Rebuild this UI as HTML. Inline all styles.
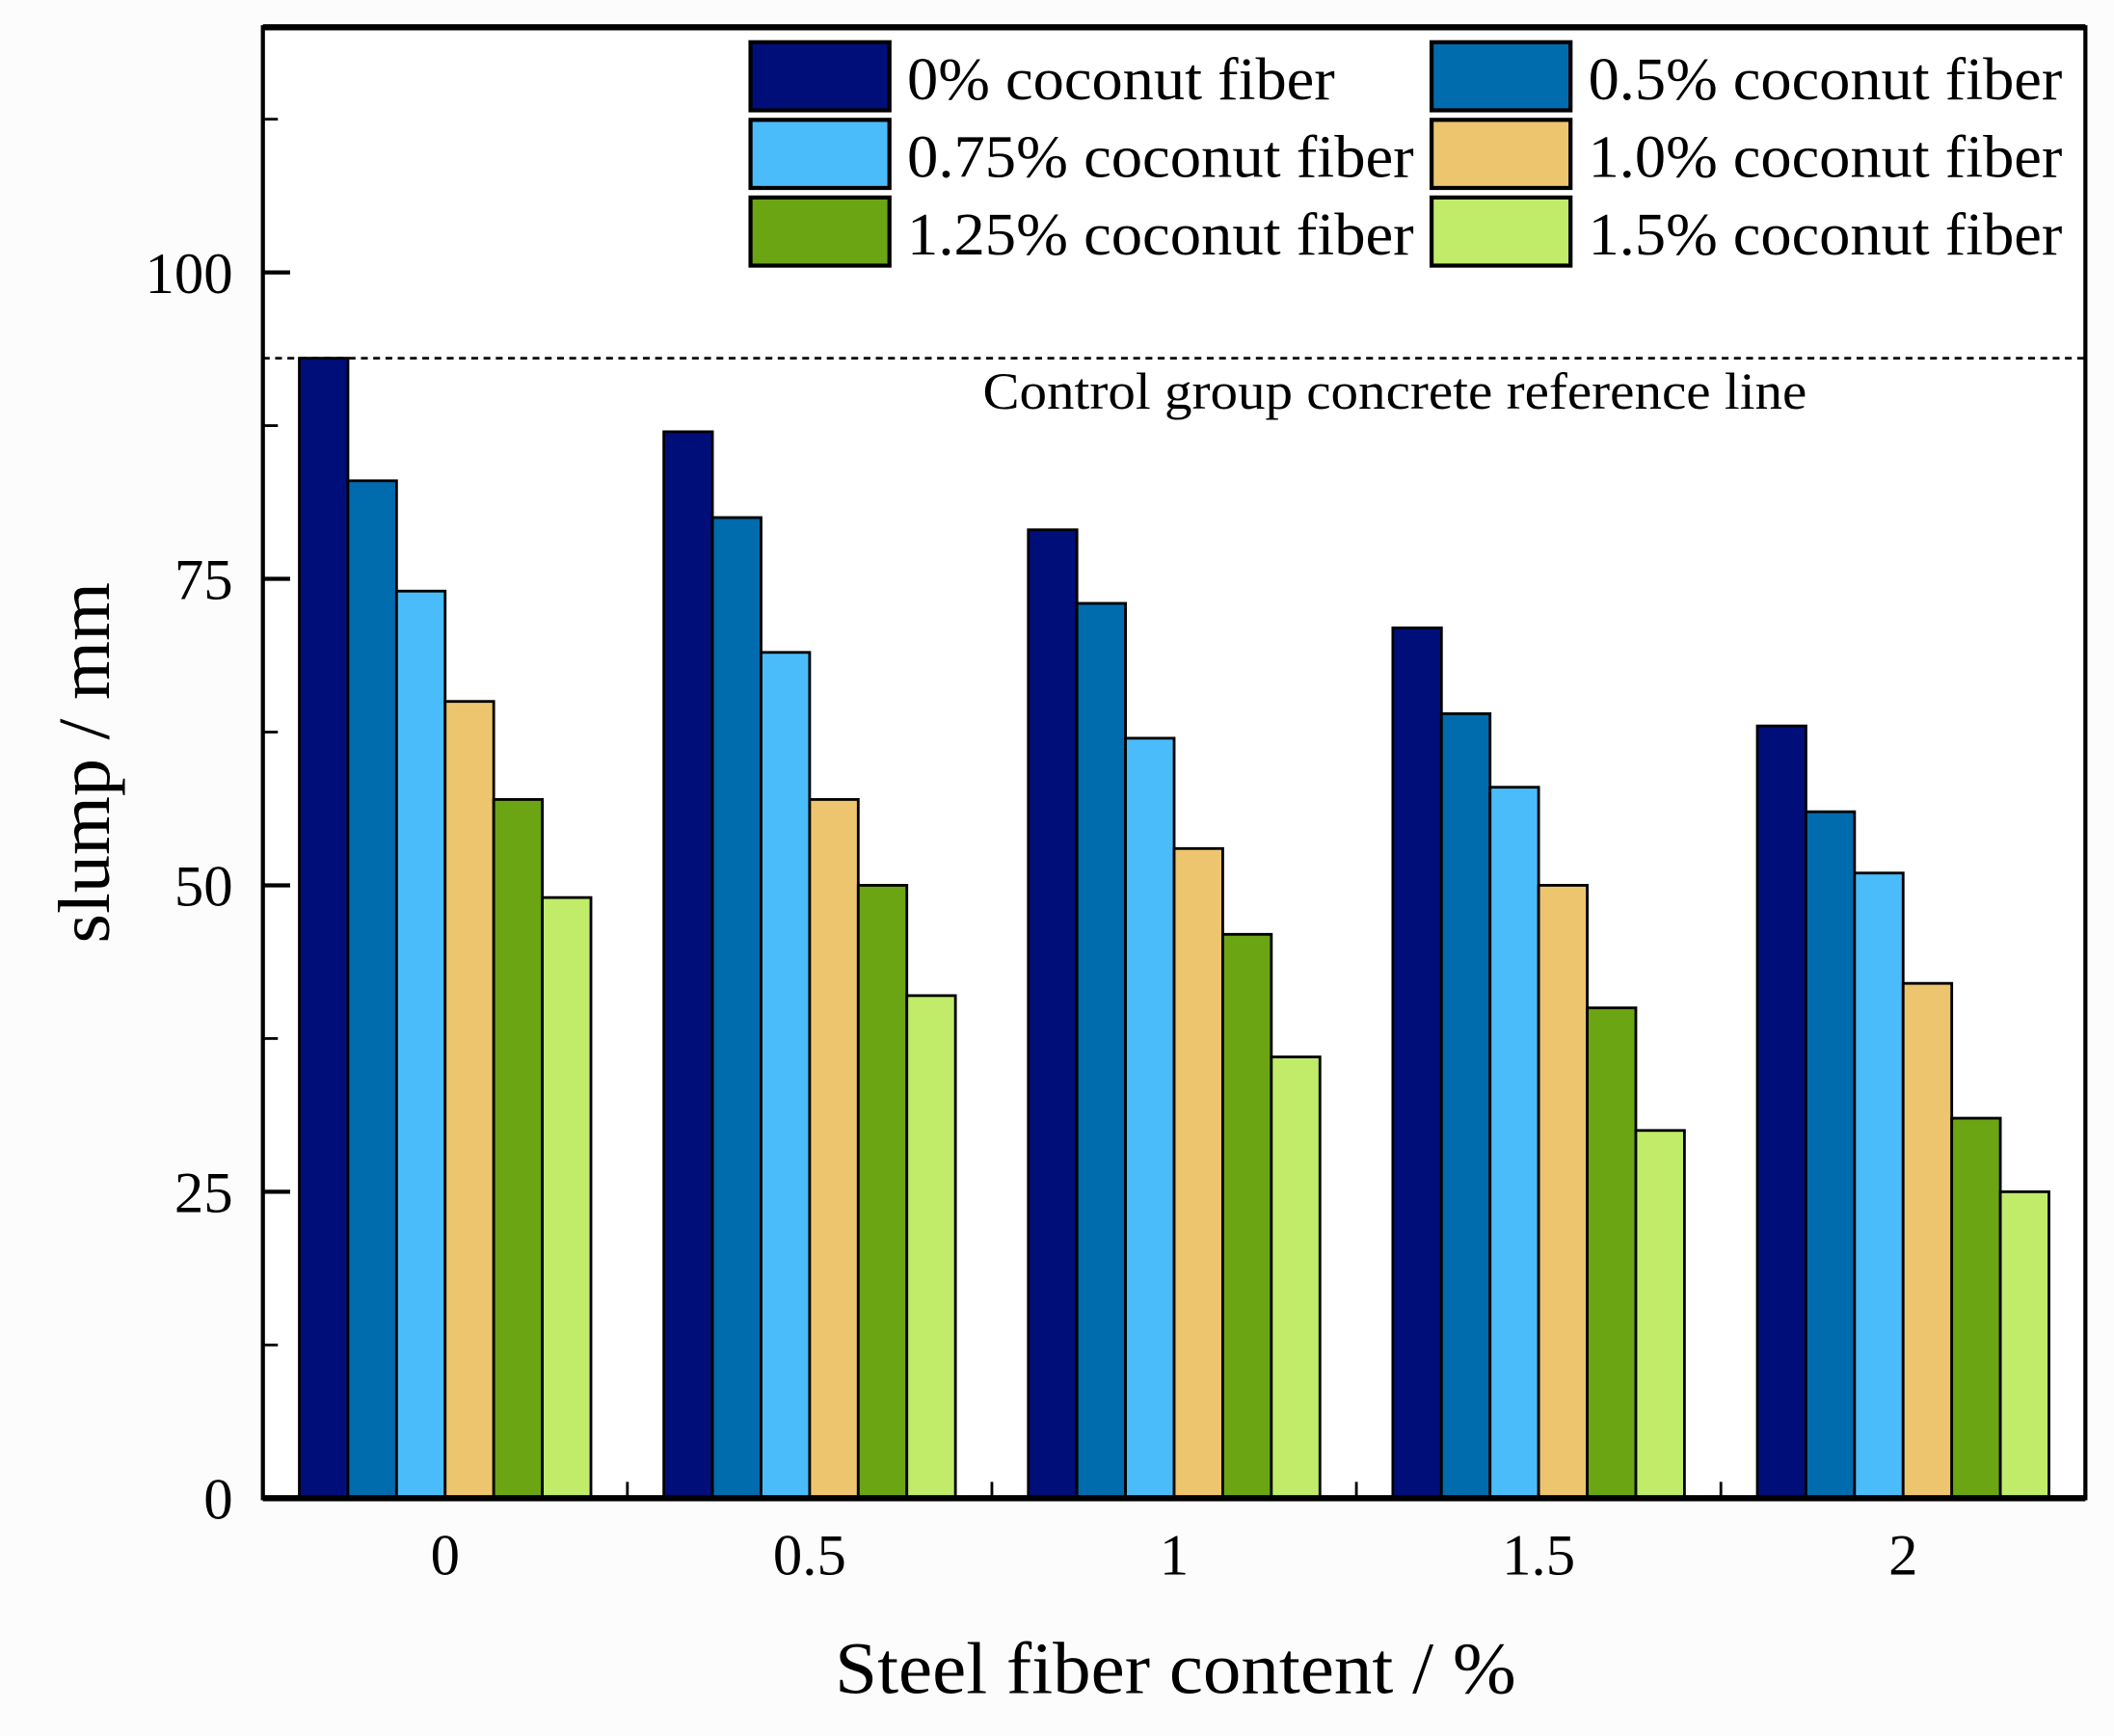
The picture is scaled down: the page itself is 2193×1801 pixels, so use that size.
<!DOCTYPE html>
<html><head><meta charset="utf-8"><style>
html,body{margin:0;padding:0;background:#fcfcfc;}
svg{display:block;font-family:"Liberation Serif",serif;}
</style></head><body>
<svg id="chart" width="2193" height="1801" viewBox="0 0 1552 1274.6" preserveAspectRatio="none" xmlns="http://www.w3.org/2000/svg">
<rect x="0" y="0" width="1552" height="1274.6" fill="#fcfcfc"/>
<rect x="193" y="20" width="1338" height="1080" fill="#ffffff"/>
<g id="bars"></g>
<g id="axes"></g>
<line x1="193" y1="263" x2="1531" y2="263" stroke="#000" stroke-width="2" stroke-dasharray="5,4"/>
<text x="1024" y="300" font-size="38" text-anchor="middle" textLength="605" lengthAdjust="spacingAndGlyphs">Control group concrete reference line</text>
<g id="legend"></g>
<text x="863" y="1243" font-size="54" text-anchor="middle" textLength="500" lengthAdjust="spacingAndGlyphs">Steel fiber content / %</text>
<text transform="translate(80,560) rotate(-90)" font-size="54" text-anchor="middle" textLength="265" lengthAdjust="spacingAndGlyphs">slump / mm</text>
</svg>
<script>
const categories = ["0", "0.5", "1", "1.5", "2"];
const catValues = [0, 0.5, 1, 1.5, 2];
const seriesNames = ["0% coconut fiber","0.5% coconut fiber","0.75% coconut fiber","1.0% coconut fiber","1.25% coconut fiber","1.5% coconut fiber"];
const s0 = [93, 87, 79, 71, 63];
const s05 = [83, 80, 73, 64, 56];
const s075 = [74, 69, 62, 58, 51];
const s10 = [65, 57, 53, 50, 42];
const s125 = [57, 50, 46, 40, 31];
const s15 = [49, 41, 36, 30, 25];
const yTicks = [0, 25, 50, 75, 100];
const yMinorTicks = [12.5, 37.5, 62.5, 87.5, 112.5];
const xMinorTicks = [0.25, 0.75, 1.25, 1.75];

const series = [s0, s05, s075, s10, s125, s15];
const colors = ["#000e7a","#006bad","#4bbcfa","#edc56e","#6ba513","#c0ec6a"];
const NS = "http://www.w3.org/2000/svg";
const L = 193, R = 1531, T = 20, B = 1100;
const xMin = -0.25, xMax = 2.25, yMin = 0, yMax = 120;
function xs(v){ return L + (v - xMin) / (xMax - xMin) * (R - L); }
function ys(v){ return B - (v - yMin) / (yMax - yMin) * (B - T); }
function mk(tag, attrs, parent){ const e = document.createElementNS(NS, tag); for (const k in attrs) e.setAttribute(k, attrs[k]); parent.appendChild(e); return e; }

const barsG = document.getElementById('bars');
const barW = (xs(0.5) - xs(0)) * 0.8 / 6;
series.forEach((vals, si) => {
  vals.forEach((v, ci) => {
    const x0 = xs(catValues[ci]) - 3 * barW + si * barW;
    const r = mk('rect', {x: x0, y: ys(v), width: barW, height: ys(0) - ys(v), fill: colors[si], stroke: '#000', 'stroke-width': 2}, barsG);
    
    
  });
});

const ax = document.getElementById('axes');
const frame = mk('rect', {x: L, y: T, width: R - L, height: B - T, fill: 'none', stroke: '#000', 'stroke-width': 3}, ax);


const topLine = mk('line', {x1: L, x2: R, y1: T, y2: T, stroke: '#000', 'stroke-width': 4.5}, ax);


const botLine = mk('line', {x1: L, x2: R, y1: B, y2: B, stroke: '#000', 'stroke-width': 4.5}, ax);


yTicks.forEach(t => {
  const ln = mk('line', {x1: L, x2: L + 20, y1: ys(t), y2: ys(t), stroke: '#000', 'stroke-width': 3}, ax);
  
  
  const tx = mk('text', {x: 171, y: ys(t) + 15, 'font-size': 43, 'text-anchor': 'end'}, ax);
  tx.textContent = t;
  
  
});
yMinorTicks.forEach(t => {
  const ln = mk('line', {x1: L, x2: L + 11, y1: ys(t), y2: ys(t), stroke: '#000', 'stroke-width': 2}, ax);
  
  
});
xMinorTicks.forEach(t => {
  const ln = mk('line', {x1: xs(t), x2: xs(t), y1: B, y2: B - 12, stroke: '#000', 'stroke-width': 2}, ax);
  
  
});
categories.forEach((c, i) => {
  const tx = mk('text', {x: xs(catValues[i]), y: 1156, 'font-size': 43, 'text-anchor': 'middle'}, ax);
  tx.textContent = c;
  
  
});

const lg = document.getElementById('legend');
seriesNames.forEach((n, i) => {
  const col = i % 2, row = Math.floor(i / 2);
  const sx = col ? 1051 : 551, sy = 31 + row * 57;
  const sw = mk('rect', {x: sx, y: sy, width: 102, height: 50, fill: colors[i], stroke: '#000', 'stroke-width': 3}, lg);
  
  
  const tx = mk('text', {x: sx + 115, y: sy + 42, 'font-size': 44}, lg);
  tx.textContent = n;
  
  
  const w = tx.getComputedTextLength();
  const target = col ? 348 : (n.length > 17 ? 372 : 314);
  if (w > 0) { tx.setAttribute('textLength', target); tx.setAttribute('lengthAdjust', 'spacingAndGlyphs'); }
});
</script>
</body></html>
